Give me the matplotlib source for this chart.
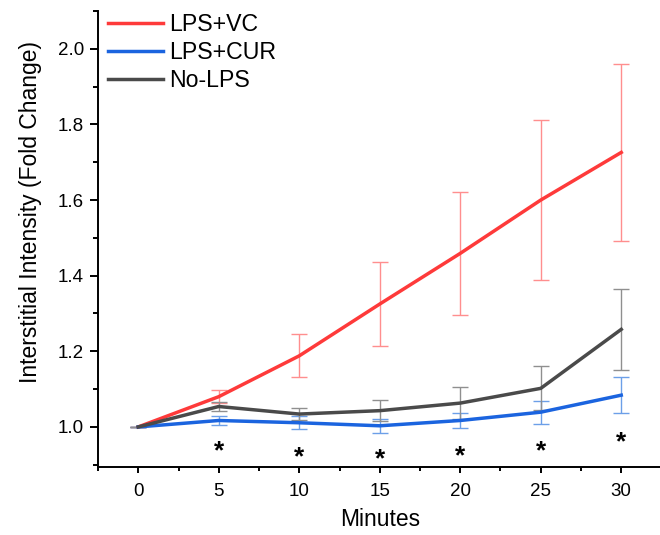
import matplotlib
matplotlib.use("Agg")
import matplotlib.pyplot as plt
from matplotlib.ticker import MultipleLocator

plt.rcParams['font.family'] = ['Liberation Sans', 'DejaVu Sans']

minutes = [0, 5, 10, 15, 20, 25, 30]
vc = [1.0, 1.080, 1.188, 1.325, 1.459, 1.600, 1.726]
vc_err = [0.0, 0.018, 0.057, 0.110, 0.163, 0.211, 0.234]
cur = [1.0, 1.017, 1.011, 1.003, 1.017, 1.039, 1.084]
cur_err = [0.0, 0.012, 0.017, 0.018, 0.021, 0.030, 0.047]
nolps = [1.0, 1.054, 1.034, 1.043, 1.063, 1.102, 1.258]
nolps_err = [0.0, 0.011, 0.016, 0.028, 0.042, 0.058, 0.107]
star_x = [5, 10, 15, 20, 25, 30]
star_y = [0.958, 0.942, 0.937, 0.944, 0.958, 0.983]
labels = ['LPS+VC', 'LPS+CUR', 'No-LPS']

c_vc = '#fe3a3a'
c_cur = '#1b64df'
c_no = '#4a4a4a'

W, H = 660, 535
fig = plt.figure(figsize=(W/100, H/100), dpi=100)
ax = fig.add_axes([98/W, 1-467/H, 563.5/W, 456/H])

series = [(vc, vc_err, c_vc, '#ff8e8e'),
          (cur, cur_err, c_cur, '#6c9fe8'),
          (nolps, nolps_err, c_no, '#8f8f8f')]
for (y, e, c, ec) in series:
    ax.errorbar(minutes, y, yerr=e, fmt='none', ecolor=ec, elinewidth=1.0,
                capsize=5.5, capthick=1.0, zorder=2)
for (y, e, c, ec), lab in zip(series, labels):
    ax.plot(minutes, y, color=c, lw=2.5, label=lab, zorder=3,
            solid_joinstyle='round')

for x, y in zip(star_x, star_y):
    ax.annotate('*', (x, y), xytext=(0, -11.2), textcoords='offset points',
                ha='center', va='baseline', fontsize=19, fontweight='bold',
                color='black')

ax.set_xlim(-2.5, 32.5)
ax.set_ylim(0.894, 2.10)
ax.xaxis.set_minor_locator(MultipleLocator(2.5))
ax.yaxis.set_minor_locator(MultipleLocator(0.1))
ax.set_xticks(minutes)
ax.set_yticks([1.0, 1.2, 1.4, 1.6, 1.8, 2.0])
ax.set_yticklabels(['1.0', '1.2', '1.4', '1.6', '1.8', '2.0'])

for s in ['top', 'right']:
    ax.spines[s].set_visible(False)
for s in ['left', 'bottom']:
    ax.spines[s].set_linewidth(1.4)
ax.tick_params(which='both', direction='out', width=1.4, labelsize=13.5)
ax.tick_params(axis='x', which='major', length=4.5, pad=7)
ax.tick_params(axis='x', which='minor', length=2.7)
ax.tick_params(axis='y', which='major', length=6, pad=4)
ax.tick_params(axis='y', which='minor', length=3.6)

ax.set_xlabel('Minutes', fontsize=16.5)
ax.xaxis.set_label_coords(0.5, -0.09)
ax.set_ylabel('Interstitial Intensity (Fold Change)', fontsize=16.5)
ax.yaxis.set_label_coords(-0.10, 0.559)

ax.legend(loc='upper left', bbox_to_anchor=(108/W, 1-13/H),
          bbox_transform=fig.transFigure, frameon=False,
          fontsize=16.7, handlelength=2.37, handletextpad=0.26,
          labelspacing=0.22, borderaxespad=0, borderpad=0)

fig.savefig('out.png', dpi=100)
